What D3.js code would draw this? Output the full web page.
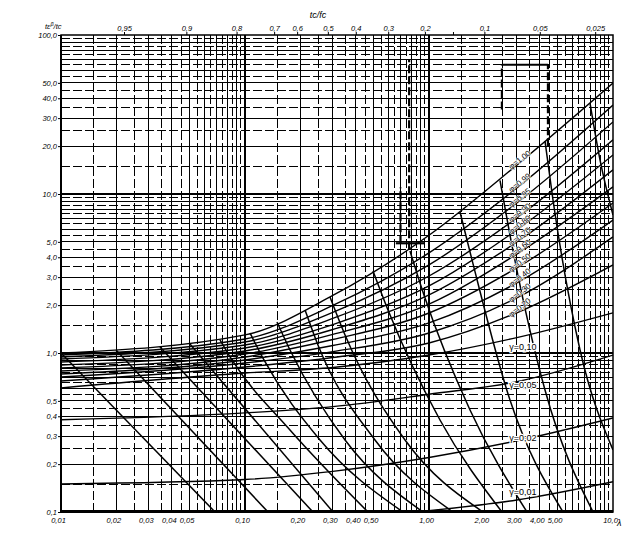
<!DOCTYPE html>
<html><head><meta charset="utf-8">
<script src="https://cdn.jsdelivr.net/npm/d3@7"></script>
<style>body{margin:0;background:#fff}svg{display:block}</style>
</head><body>
<svg id="c" width="640" height="540"></svg>
<script>
// ---------- data ----------
const xTickValues = [0.01,0.02,0.03,0.04,0.05,0.1,0.2,0.3,0.4,0.5,1,2,3,4,5,10];
const xTickLabels = ["0,01","0,02","0,03","0,04","0,05","0,10","0,20","0,30","0,40","0,50","1,00","2,00","3,00","4,00","5,00","10,0"];
const yTickValues = [0.1,0.2,0.3,0.4,0.5,1,2,3,4,5,10,20,30,40,50,100];
const yTickLabels = ["0,1","0,2","0,3","0,4","0,5","1,0","2,0","3,0","4,0","5,0","10,0","20,0","30,0","40,0","50,0","100,0"];
const topTickValues = [0.022,0.048,0.09,0.144,0.192,0.282,0.40,0.60,0.95,1.35,2.0,4.0,8.0];
const topTickLabels = ["0,95","0,9","0,8","0,7","0,6","0,5","0,4","0,3","0,2","","0,1","0,05","0,025"];
const decades = [0.01,0.1,1];
const yDecades = [0.1,1,10];
const majorSteps = [1,2,3,4,5,6,7,8,9];
const minorSteps = [1.5,2.5,3.5,4.5,5.5,6.5,7.5,8.5,9.5];

const lambdaPts = [0.01,0.1,0.3,1,3,10];
const phiNames = ["φ=1,00","φ=0,99","φ=0,95","φ=0,90","φ=0,80","φ=0,70","φ=0,60","φ=0,50","φ=0,40","φ=0,30","φ=0,20"];
const phi100 = [1.00,1.30,2.30,5.5,15.2,49.9];
const phi099 = [0.971,1.225,1.99,4.26,10.9,36.3];
const phi095 = [0.944,1.173,1.80,3.58,8.78,28.4];
const phi090 = [0.917,1.123,1.65,3.05,7.06,21.9];
const phi080 = [0.878,1.075,1.51,2.64,5.94,17.6];
const phi070 = [0.840,1.03,1.405,2.32,4.99,14.2];
const phi060 = [0.805,0.986,1.31,2.03,4.19,11.1];
const phi050 = [0.770,0.944,1.216,1.785,3.43,8.78];
const phi040 = [0.738,0.904,1.115,1.545,2.76,6.86];
const phi030 = [0.707,0.865,1.02,1.336,2.22,5.37];
const phi020 = [0.667,0.816,0.937,1.156,1.79,3.58];
const gammaNames = ["γ=0,10","γ=0,05","γ=0,02","γ=0,01"];
const gam010 = [0.603,0.748,0.811,0.971,1.25,1.79];
const gam005 = [0.38,0.42,0.46,0.55,0.66,0.97];
const gam002 = [0.15,0.16,0.18,0.22,0.28,0.39];
const gam001 = [null,null,0.09,0.102,0.119,0.155];

// tc/fc curves: [λ, value] pairs
const arc1 = [[0.01,1.0],[0.0687,0.1]];
const arc2 = [[0.0199,1.045],[0.1334,0.1]];
const arc3 = [[0.0345,1.09],[0.234,0.1]];
const arc4 = [[0.0502,1.14],[0.301,0.1]];
const arc5 = [[0.0731,1.21],[0.085,0.904],[0.1756,0.328],[0.466,0.1]];
const arc6 = [[0.1065,1.336],[0.1268,0.904],[0.2557,0.2836],[0.7225,0.1]];
const arc7 = [[0.1492,1.567],[0.1756,1.045],[0.3497,0.2836],[0.9277,0.1]];
const arc8 = [[0.212,1.864],[0.2492,1.123],[0.5087,0.2836],[1.35,0.1]];
const arc9 = [[0.2897,2.25],[0.3497,1.298],[0.7408,0.2836],[1.966,0.1]];
const arc10 = [[0.4963,3.28],[0.5986,1.864],[1.1476,0.379],[2.493,0.1]];
const arc11 = [[0.788,4.38],[0.939,2.316],[1.671,0.438],[3.41,0.1]];
const arc12 = [[1.474,7.70],[1.713,3.85],[2.755,0.506],[5.35,0.1]];
const arc13 = [[2.431,12.2],[2.755,5.52],[4.27,0.585],[7.79,0.1]];
const arc14 = [[4.27,21.5],[4.72,9.17],[6.62,1.045],[10,0.2455]];
const arc15 = [[7.50,37.3],[8.50,16.4],[10,7.38]];

// projection lines: [λ, from, to]
const projV = [[0.78,4.5,70],[0.70,4.9,11.0],[2.49,34,65],[4.43,20,65]];
const projH = [[65,2.49,4.43],[4.9,0.66,0.95]];

// ---------- drawing ----------
const L=61,R=613,T=35,B=512;
const svg = d3.select("#c");
const x = d3.scaleLog().domain([0.01,10]).range([L,R]);
const y = d3.scaleLog().domain([0.1,100]).range([B,T]);

svg.append("defs").append("clipPath").attr("id","clip")
  .append("rect").attr("x",L).attr("y",T).attr("width",R-L).attr("height",B-T);

const grid = svg.append("g").attr("stroke","#000").attr("shape-rendering","crispEdges");
decades.forEach(d=>{
  majorSteps.forEach(k=>{ const v=k*d; grid.append("line").attr("x1",x(v)).attr("x2",x(v)).attr("y1",T).attr("y2",B).attr("stroke-width",1.2);});
  minorSteps.forEach(k=>{ const v=k*d; grid.append("line").attr("x1",x(v)).attr("x2",x(v)).attr("y1",T).attr("y2",B).attr("stroke-width",1).attr("stroke-dasharray","9,3");});
});
yDecades.forEach(d=>{
  majorSteps.forEach(k=>{ const v=k*d; grid.append("line").attr("y1",y(v)).attr("y2",y(v)).attr("x1",L).attr("x2",R).attr("stroke-width",1.2);});
  minorSteps.forEach(k=>{ const v=k*d; grid.append("line").attr("y1",y(v)).attr("y2",y(v)).attr("x1",L).attr("x2",R).attr("stroke-width",1).attr("stroke-dasharray","9,3");});
});
grid.append("line").attr("x1",L).attr("x2",R).attr("y1",B-2).attr("y2",B-2).attr("stroke-width",1);

const plot = svg.append("g").attr("clip-path","url(#clip)").attr("fill","none").attr("stroke","#000");
const lineXY = d3.line().x(d=>x(d[0])).y(d=>y(d[1])).curve(d3.curveMonotoneX);
const toPts = vals => lambdaPts.map((l,i)=>[l,vals[i]]).filter(p=>p[1]!=null);

const phiSeries = [phi100,phi099,phi095,phi090,phi080,phi070,phi060,phi050,phi040,phi030,phi020];
const gamSeries = [gam010,gam005,gam002,gam001];
phiSeries.concat(gamSeries).forEach(s=>{
  plot.append("path").attr("d",lineXY(toPts(s))).attr("stroke-width",1.4);
});
[arc1,arc2,arc3,arc4,arc5,arc6,arc7,arc8,arc9,arc10,arc11,arc12,arc13,arc14,arc15].forEach(a=>{
  plot.append("path").attr("d",lineXY(a)).attr("stroke-width",1.5);
});
projV.forEach(p=>plot.append("line").attr("x1",x(p[0])).attr("x2",x(p[0])).attr("y1",y(p[1])).attr("y2",y(p[2]))
  .attr("stroke-width",2.2).attr("stroke-dasharray","8,3"));
projH.forEach(p=>plot.append("line").attr("y1",y(p[0])).attr("y2",y(p[0])).attr("x1",x(p[1])).attr("x2",x(p[2]))
  .attr("stroke-width",2.2));

// frame
svg.append("rect").attr("x",L).attr("y",T).attr("width",R-L).attr("height",B-T)
  .attr("fill","none").attr("stroke","#000").attr("stroke-width",1.5);

// axes
const fontStyle = sel => sel.attr("font-family","Liberation Sans, Arial, sans-serif").attr("font-style","italic").attr("font-size",7.5).attr("fill","#000");
const ax = svg.append("g").attr("transform",`translate(-3,${B})`)
  .call(d3.axisBottom(x).tickValues(xTickValues).tickFormat((d,i)=>xTickLabels[i]).tickSize(0).tickPadding(6));
ax.select(".domain").remove();
ax.selectAll("text").call(fontStyle);
svg.append("text").attr("x",617).attr("y",B+14).text("λ").call(fontStyle).attr("font-size",9);

const ay = svg.append("g").attr("transform",`translate(${L},0)`)
  .call(d3.axisLeft(y).tickValues(yTickValues).tickFormat((d,i)=>yTickLabels[i]).tickSize(3).tickPadding(1));
ay.select(".domain").remove();
ay.selectAll("line").attr("stroke","#000");
ay.selectAll("text").call(fontStyle);

const at = svg.append("g").attr("transform",`translate(0,${T})`)
  .call(d3.axisTop(x).tickValues(topTickValues).tickFormat((d,i)=>topTickLabels[i]).tickSize(3).tickPadding(1));
at.select(".domain").remove();
at.selectAll("line").attr("stroke","#000");
at.selectAll("text").call(fontStyle);

svg.append("text").attr("x",318).attr("y",18).attr("text-anchor","middle").text("tc/fc").call(fontStyle).attr("font-size",9);
const tl = svg.append("text").attr("x",45).attr("y",29).call(fontStyle);
tl.append("tspan").text("tε");
tl.append("tspan").attr("dy",-3).attr("font-size",5.5).text("β");
tl.append("tspan").attr("dy",3).text("/tc");

// curve labels
const labG = svg.append("g");
phiSeries.forEach((s,i)=>{
  const px = x(3)+3, py = y(s[4])-5;
  labG.append("text").attr("transform",`translate(${px},${py}) rotate(-38)`).attr("text-anchor","middle")
    .attr("dy","0.3em")
    .text(phiNames[i]).call(fontStyle).attr("font-style","normal").attr("font-size",8)
    .attr("stroke","#fff").attr("stroke-width",1.2).attr("paint-order","stroke");
});
const gamDy = [12,6,0,-5];
gamSeries.forEach((s,i)=>{
  const px = x(3)+6, py = y(s[4])+gamDy[i];
  labG.append("text").attr("x",px).attr("y",py).attr("text-anchor","middle")
    .text(gammaNames[i]).call(fontStyle).attr("font-style","normal").attr("font-size",9)
    .attr("stroke","#fff").attr("stroke-width",2.5).attr("paint-order","stroke");
});
</script>
</body></html>
